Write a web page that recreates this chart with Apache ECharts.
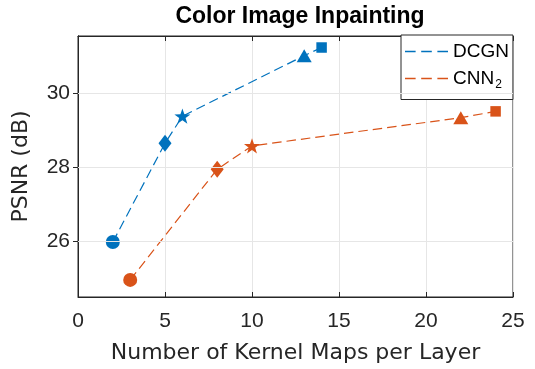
<!DOCTYPE html>
<html><head><meta charset="utf-8">
<script src="https://cdn.jsdelivr.net/npm/echarts@6/dist/echarts.min.js"></script>
<style>html,body{margin:0;padding:0;background:#fff}#c{width:535px;height:369px}</style>
</head><body><div id="c"></div>
<script>
var seriesNames = ['DCGN', 'CNN2'];
var dcgnX = [2, 5, 6, 13, 14];
var dcgnY = [25.98, 28.64, 29.37, 31.0, 31.22];
var cnnX = [3, 8, 10, 22, 24];
var cnnY = [24.96, 27.94, 28.57, 29.33, 29.5];
var markerShapes = ['circle', 'diamond', 'star', 'triangle', 'square'];
var xTicks = [0, 5, 10, 15, 20, 25];
var yTicks = [26, 28, 30];

var STAR = 'path://M0,-10 L2.35,-3.24 9.51,-3.09 3.8,1.24 5.88,8.09 0,4 -5.88,8.09 -3.8,1.24 -9.51,-3.09 -2.35,-3.24Z';
var DASH_ICON = 'path://M0,0h10.5v1.3h-10.5z M16,0h10.5v1.3h-10.5z M32,0h10.5v1.3h-10.5z';
function sym(name) {
  if (name === 'circle') return {symbol: 'circle', symbolSize: 14};
  if (name === 'diamond') return {symbol: 'diamond', symbolSize: [13, 17]};
  if (name === 'star') return {symbol: STAR, symbolSize: 16};
  if (name === 'triangle') return {symbol: 'triangle', symbolSize: [15, 13]};
  return {symbol: 'rect', symbolSize: 10.5};
}
function build(xs, ys) {
  return xs.map(function (x, i) {
    var s = sym(markerShapes[i]);
    return {value: [x, ys[i]], symbol: s.symbol, symbolSize: s.symbolSize, symbolKeepAspect: true};
  });
}
var FONT = '"Liberation Sans", Arial, sans-serif';
var NAMEFONT = '"DejaVu Sans", sans-serif';
var axisCol = '#262626';
var gridCol = '#e6e6e6';
var chart = echarts.init(document.getElementById('c'), null, {renderer: 'canvas'});
var commonX = {type: 'value', min: 0, max: 25, interval: 5};
var commonY = {type: 'value', min: 24.5, max: 31.53};
var tickStyle = {show: true, inside: true, length: 5, lineStyle: {color: axisCol, width: 1}};
var DASH = [9.5, 5];
chart.setOption({
  animation: false,
  title: {text: 'Color Image Inpainting', left: 295, top: 0, textAlign: 'center',
    textStyle: {fontFamily: FONT, fontWeight: 'bold', fontSize: 23, color: '#000'}},
  grid: {left: 78, right: 22, top: 36, bottom: 71, show: true, borderColor: axisCol, borderWidth: 1},
  legend: {
    left: 401, top: 35, orient: 'vertical', itemWidth: 43, itemHeight: 1.4, itemGap: 8,
    padding: [7, 4, 9, 4], borderColor: axisCol, borderWidth: 1, backgroundColor: '#fff',
    borderRadius: 0, textStyle: {fontFamily: FONT, fontSize: 19, color: '#000',
      rich: {sub: {fontFamily: FONT, fontSize: 12, color: '#000', padding: [12, 0, 0, 1]},
             n: {fontFamily: FONT, fontSize: 19, color: '#000'}}},
    formatter: function (n) { return n === 'CNN2' ? '{n|CNN}{sub|2}' : n; },
    data: seriesNames.map(function (n) { return {name: n, icon: DASH_ICON}; })
  },
  xAxis: [Object.assign({}, commonX, {
    position: 'bottom',
    name: 'Number of Kernel Maps per Layer', nameLocation: 'middle', nameGap: 45,
    nameTextStyle: {fontFamily: NAMEFONT, fontSize: 22, color: axisCol},
    axisLine: {show: true, lineStyle: {color: axisCol}},
    axisTick: tickStyle,
    axisLabel: {fontFamily: FONT, fontSize: 21, color: axisCol, margin: 14},
    splitLine: {show: true, lineStyle: {color: gridCol, width: 1}}
  }), Object.assign({}, commonX, {
    position: 'top',
    axisLine: {show: true, lineStyle: {color: axisCol}},
    axisTick: tickStyle,
    axisLabel: {show: false}, splitLine: {show: false}
  })],
  yAxis: [Object.assign({}, commonY, {
    position: 'left',
    name: 'PSNR (dB)', nameLocation: 'middle', nameGap: 46, nameRotate: 90,
    nameTextStyle: {fontFamily: NAMEFONT, fontSize: 22, color: axisCol},
    axisLine: {show: true, lineStyle: {color: axisCol}},
    axisLabel: {fontFamily: FONT, fontSize: 21, color: axisCol, margin: 8, customValues: yTicks},
    axisTick: Object.assign({}, tickStyle, {customValues: yTicks}),
    splitLine: {show: false}
  }), Object.assign({}, commonY, {
    position: 'right',
    axisLine: {show: true, lineStyle: {color: axisCol}},
    axisTick: Object.assign({}, tickStyle, {customValues: yTicks}),
    axisLabel: {show: false}, splitLine: {show: false}
  })],
  series: [
    {name: 'DCGN', type: 'line', symbol: 'none', showSymbol: true, data: build(dcgnX, dcgnY), color: '#0072BD',
      lineStyle: {type: DASH, width: 1.2, color: '#0072BD'}, itemStyle: {color: '#0072BD'}, z: 3},
    {name: 'CNN2', type: 'line', symbol: 'none', showSymbol: true, data: build(cnnX, cnnY), color: '#D95319',
      lineStyle: {type: DASH, width: 1.2, color: '#D95319'}, itemStyle: {color: '#D95319'}, z: 3},
    {type: 'line', xAxisIndex: 0, yAxisIndex: 0, data: [], silent: true,
      markLine: {silent: true, symbol: 'none', label: {show: false},
        lineStyle: {color: gridCol, type: 'solid', width: 1},
        data: yTicks.map(function (v) { return {yAxis: v}; })}, z: 1}
  ]
});
</script></body></html>
